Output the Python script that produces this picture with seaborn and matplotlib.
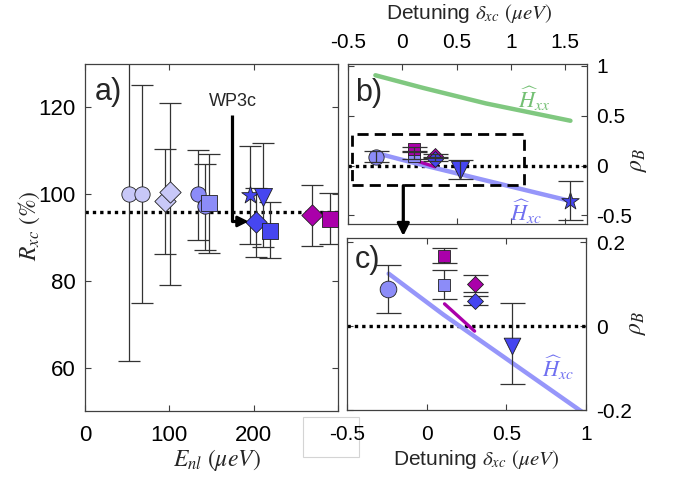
import numpy as np
import pandas as pd
import matplotlib
matplotlib.use("Agg")
import matplotlib.pyplot as plt
import seaborn as sns
from matplotlib.patches import Rectangle

# ---------------- data ----------------
# panel a
enl = [52.5, 67.0, 95.0, 101.0, 134.5, 142.5, 147.5, 195.7, 202.3, 211.5, 218.9, 269.0, 290.0]
r_xc = [100.0, 100.0, 98.3, 100.4, 100.0, 97.3, 97.9, 99.8, 93.6, 99.4, 91.6, 95.2, 94.3]
r_top = [138.5, 125.2, 110.3, 121.0, 110.1, 107.0, 109.2, 111.2, 101.5, 111.9, 98.2, 102.1, 100.3]
r_bot = [61.5, 74.9, 86.2, 79.1, 89.4, 87.1, 86.4, 88.5, 85.6, 87.9, 85.2, 88.1, 88.4]
a_markers = ['o', 'o', 'D', 'D', 'o', 'o', 's', '*', 'D', 'v', 's', 'D', 's']
a_groups = ['light', 'light', 'light', 'light', 'mid', 'mid', 'mid',
            'blue', 'blue', 'blue', 'blue', 'mag', 'mag']
r_mean = 95.8

# panels b / c
det = [-0.245, 0.105, 0.105, 0.30, 0.30, 0.535, 1.546]
rho = [0.089, 0.099, 0.166, 0.101, 0.061, -0.047, -0.355]
rho_top = [0.146, 0.133, 0.186, 0.121, 0.072, 0.055, -0.160]
rho_bot = [0.031, 0.064, 0.150, 0.081, 0.050, -0.139, -0.550]
bc_markers = ['o', 's', 's', 'D', 'D', 'v', '*']
bc_groups = ['mid', 'mid', 'mag', 'mag', 'blue', 'blue', 'blue']

hxx_det = [-0.25, 0.19, 0.77, 1.55]
hxx_rho = [0.907, 0.78, 0.624, 0.45]
hxc_det = [-0.24, 0.105, 0.97, 1.55]
hxc_rho = [0.125, 0.027, -0.203, -0.356]
mag_det = [0.111, 0.30]
mag_rho = [0.053, -0.012]

a_xticks = [0, 100, 200, 300]
a_xticklabels = ['0', '100', '200', '']
a_yticks = [60, 80, 100, 120]
b_xticks = [-0.5, 0, 0.5, 1, 1.5]
b_yticks = [-0.5, 0, 0.5, 1]
c_xticks = [-0.5, 0, 0.5, 1]
c_yticks = [-0.2, 0, 0.2]

# ---------------- style ----------------
sns.set_theme(style="ticks")
plt.rcParams['font.family'] = ['Liberation Sans', 'DejaVu Sans']
plt.rcParams['mathtext.fontset'] = 'stix'
plt.rcParams['axes.unicode_minus'] = False

COL = {'light': '#c8c8f8', 'mid': '#8c8cf8', 'blue': '#4646f0', 'mag': '#aa00aa'}
GREEN = '#80c880'
HXC = '#9696fa'
EC = '#333333'
FRAME = '#404040'

W, H = 685, 480
fig = plt.figure(figsize=(6.85, 4.8), dpi=100)


def fbox(l, t, r, b):
    return [l / W, (H - b) / H, (r - l) / W, (b - t) / H]


ax_a = fig.add_axes(fbox(85, 64, 338, 411))
ax_b = fig.add_axes(fbox(348.3, 64, 586.7, 224.3))
ax_c = fig.add_axes(fbox(347.3, 238, 586, 410))

for ax in (ax_a, ax_b, ax_c):
    for sp in ax.spines.values():
        sp.set_color(FRAME)
        sp.set_linewidth(0.9)
    ax.tick_params(direction='in', length=4, width=0.8, color=FRAME,
                   labelcolor='black', top=True, right=True, left=True, bottom=True)

# ---------------- panel a ----------------
size_a = {'o': 121, 's': 117, 'D': 118, '*': 175, 'v': 169}
ax_a.axhline(r_mean, color='black', lw=2.4, ls=(0, (1, 1.2)), zorder=1.5)
for x, y, t, b in zip(enl, r_xc, r_top, r_bot):
    ax_a.errorbar([x], [y], yerr=[[y - b], [t - y]], fmt='none', ecolor=EC,
                  elinewidth=0.9, capsize=8, capthick=0.9, zorder=2)
for x, y, m, g in zip(enl, r_xc, a_markers, a_groups):
    sns.scatterplot(x=[x], y=[y], marker=m, s=size_a[m], color=COL[g],
                    edgecolor='#202020', linewidth=0.6, ax=ax_a, zorder=3, legend=False)
ax_a.set_xlim(0, 300)
ax_a.set_ylim(50, 130)
ax_a.set_xticks(a_xticks)
ax_a.set_xticklabels(a_xticklabels)
ax_a.set_yticks(a_yticks)
ax_a.set_yticklabels([str(v) for v in a_yticks])
ax_a.tick_params(axis='x', labelsize=16, pad=10)
ax_a.tick_params(axis='y', labelsize=16, pad=7)
ax_a.set_xlabel('')
ax_a.set_ylabel('')
ax_a.text(0.522, -0.141, r'$E_{nl}\ (\mu eV)$', transform=ax_a.transAxes,
          ha='center', va='center', fontsize=17)
ax_a.text(-0.222, 0.533, r'$R_{xc}\ (\%)$', transform=ax_a.transAxes,
          ha='center', va='center', fontsize=17, rotation=90)
ax_a.text(0.091, 0.919, 'a)', transform=ax_a.transAxes, ha='center', va='center', fontsize=22)

# WP3c annotation
ax_a.text(175.6, 121.4, 'WP3c', ha='center', va='center', fontsize=13)
ax_a.plot([174, 174, 184], [118.3, 93.7, 93.7], color='black', lw=2.3,
          solid_capstyle='butt', zorder=4)
ax_a.annotate('', xy=(194, 93.7), xytext=(182, 93.7),
              arrowprops=dict(arrowstyle='-|>', color='black', lw=2.0,
                              mutation_scale=16, shrinkA=0, shrinkB=0), zorder=4)

# ---------------- panels b and c ----------------
size_b = {'o': 121, 's': 70, 'D': 66, 'v': 169, '*': 175}
size_c = {'o': 144, 's': 64, 'D': 66, 'v': 144, '*': 175}

for ax, sizes, err_z, cap in ((ax_b, size_b, 4, 9), (ax_c, size_c, 2, 9)):
    ax.axhline(0, color='black', lw=2.4, ls=(0, (1, 1.2)), zorder=1.5)
    sns.lineplot(x=hxc_det, y=hxc_rho, ax=ax, color=HXC, lw=3.2, sort=False,
                 zorder=1.8, legend=False)
    sns.lineplot(x=mag_det, y=mag_rho, ax=ax, color=COL['mag'], lw=2.4, sort=False,
                 zorder=1.9, legend=False)
    for x, y, t, b in zip(det, rho, rho_top, rho_bot):
        ax.errorbar([x], [y], yerr=[[y - b], [t - y]], fmt='none', ecolor=EC,
                    elinewidth=0.9, capsize=cap, capthick=0.9, zorder=err_z)
    for x, y, m, g in zip(det, rho, bc_markers, bc_groups):
        sns.scatterplot(x=[x], y=[y], marker=m, s=sizes[m], color=COL[g],
                        edgecolor='#202020', linewidth=0.6, ax=ax, zorder=3, legend=False)
    ax.set_xlabel('')
    ax.set_ylabel('')

# panel b
sns.lineplot(x=hxx_det, y=hxx_rho, ax=ax_b, color=GREEN, lw=3.2, sort=False, legend=False)
ax_b.add_patch(Rectangle((-0.47, -0.20), 1.59, 0.514, fill=False, edgecolor='black',
                         lw=2.0, ls=(0, (4, 2.2)), zorder=2.5))
ax_b.set_xlim(-0.5, 1.7)
ax_b.set_ylim(-0.59, 1.02)
ax_b.set_xticks(b_xticks)
ax_b.set_xticklabels(['-0.5', '0', '0.5', '1', '1.5'])
ax_b.set_yticks(b_yticks)
ax_b.set_yticklabels(['-0.5', '0', '0.5', '1'])
ax_b.tick_params(axis='x', labeltop=True, labelbottom=False, labelsize=15, pad=9)
ax_b.tick_params(axis='y', labelright=True, labelleft=False, labelsize=15, pad=7)
ax_b.text(0.506, 1.318, r'Detuning $\delta_{xc}$ $(\mu eV)$', transform=ax_b.transAxes,
          ha='center', va='center', fontsize=15)
ax_b.text(1.217, 0.401, r'$\rho_B$', transform=ax_b.transAxes, ha='center', va='center',
          fontsize=17, rotation=90)
ax_b.text(0.087, 0.819, 'b)', transform=ax_b.transAxes, ha='center', va='center', fontsize=22)
ax_b.text(1.217, 0.667, r'$\widehat{H}_{xx}$', color='#74c074', ha='center', va='center',
          fontsize=16)
ax_b.text(1.14, -0.47, r'$\widehat{H}_{xc}$', color='#7070f0', ha='center', va='center',
          fontsize=16)

# panel c
ax_c.set_xlim(-0.5, 1.0)
ax_c.set_ylim(-0.2, 0.21)
ax_c.set_xticks(c_xticks)
ax_c.set_xticklabels(['-0.5', '0', '0.5', '1'])
ax_c.set_yticks(c_yticks)
ax_c.set_yticklabels(['-0.2', '0', '0.2'])
ax_c.tick_params(axis='x', labelsize=15, pad=11)
ax_c.tick_params(axis='y', labelright=True, labelleft=False, labelsize=15, pad=7)
ax_c.text(0.539, -0.29, r'Detuning $\delta_{xc}$ $(\mu eV)$', transform=ax_c.transAxes,
          ha='center', va='center', fontsize=15)
ax_c.text(1.214, 0.506, r'$\rho_B$', transform=ax_c.transAxes, ha='center', va='center',
          fontsize=17, rotation=90)
ax_c.text(0.083, 0.87, 'c)', transform=ax_c.transAxes, ha='center', va='center', fontsize=22)
ax_c.text(0.823, -0.10, r'$\widehat{H}_{xc}$', color='#7070f0', ha='center', va='center',
          fontsize=16)

# arrow from b to c
fig.add_artist(matplotlib.patches.FancyArrowPatch(
    (403.3 / W, 1 - 185.7 / H), (403.3 / W, 1 - 236 / H), transform=fig.transFigure,
    arrowstyle='-|>', mutation_scale=18, color='black', lw=2.3, shrinkA=0, shrinkB=0,
    zorder=5))

# light box around the -0.5 label
fig.add_artist(Rectangle((303.3 / W, (H - 456.7) / H), 56 / W, 39.4 / H,
                         transform=fig.transFigure, facecolor='white',
                         edgecolor='#d4d4d4', lw=0.8, zorder=-1))

fig.savefig('out.png', dpi=100)
